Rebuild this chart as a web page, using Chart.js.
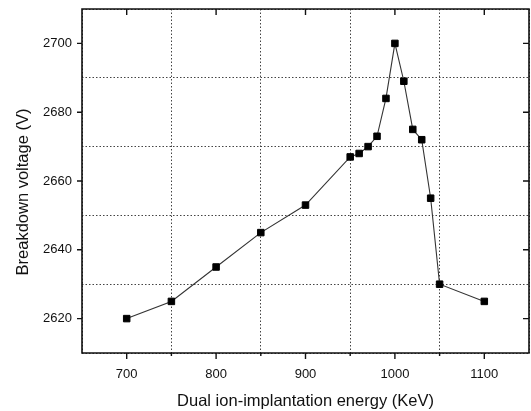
<!DOCTYPE html>
<html>
<head>
<meta charset="utf-8">
<script src="https://cdn.jsdelivr.net/npm/chart.js@4/dist/chart.umd.min.js"></script>
<style>
  html, body { margin: 0; padding: 0; background: #fff; overflow: hidden; }
  #wrap { width: 531px; height: 411px; }
</style>
</head>
<body>
<div id="wrap"><canvas id="grafica"></canvas></div>
<script>
// energia de implantacion (KeV) y voltaje de ruptura (V)
const energy = [700, 750, 800, 850, 900, 950, 960, 970, 980, 990, 1000, 1010, 1020, 1030, 1040, 1050, 1100];
const voltage = [2620, 2625, 2635, 2645, 2653, 2667, 2668, 2670, 2673, 2684, 2700, 2689, 2675, 2672, 2655, 2630, 2625];
const xTicks = [700, 800, 900, 1000, 1100];
const xMinor = [750, 850, 950, 1050];
const yTicks = [2620, 2640, 2660, 2680, 2700];
const yTitle = 'Breakdown voltage (V)';

const FONT = 'Arial, "Liberation Sans", Helvetica, sans-serif';

// marco, marcas de los ejes y titulo del eje Y
const marco = {
    id: 'marco',
    afterDatasetsDraw(chart) {
        const ctx = chart.ctx;
        const a = chart.chartArea;
        const x = chart.scales.x;
        const y = chart.scales.y;
        ctx.save();
        ctx.strokeStyle = '#111';
        ctx.lineWidth = 1.6;
        ctx.beginPath();
        ctx.rect(a.left, a.top, a.right - a.left, a.bottom - a.top);
        ctx.stroke();
        ctx.lineWidth = 1.4;
        ctx.beginPath();
        xTicks.forEach(v => {
            const px = x.getPixelForValue(v);
            ctx.moveTo(px, a.bottom); ctx.lineTo(px, a.bottom + 6); // abajo, hacia fuera
            ctx.moveTo(px, a.top); ctx.lineTo(px, a.top + 6);       // arriba, hacia dentro
        });
        xMinor.forEach(v => {
            const px = x.getPixelForValue(v);
            ctx.moveTo(px, a.bottom); ctx.lineTo(px, a.bottom + 3);
        });
        yTicks.forEach(v => {
            const py = y.getPixelForValue(v);
            ctx.moveTo(a.left, py); ctx.lineTo(a.left - 5, py);     // izquierda, hacia fuera
            ctx.moveTo(a.right, py); ctx.lineTo(a.right - 6, py);   // derecha, hacia dentro
        });
        ctx.stroke();

        // titulo eje Y (un poco por debajo del centro, como en el original)
        ctx.translate(23, 192);
        ctx.rotate(-Math.PI / 2);
        ctx.fillStyle = '#111';
        ctx.font = '16.5px ' + FONT;
        ctx.textAlign = 'center';
        ctx.textBaseline = 'middle';
        ctx.fillText(yTitle, 0, 0);
        ctx.restore();
    }
};

const ctx = document.getElementById('grafica').getContext('2d');
const chart = new Chart(ctx, {
    type: 'line',
    data: {
        datasets: [{
            data: energy.map((e, i) => ({ x: e, y: voltage[i] })),
            borderColor: '#333',
            borderWidth: 1.1,
            pointStyle: 'rect',
            pointRadius: 4.6,
            pointBackgroundColor: '#000',
            pointBorderColor: '#000',
            pointBorderWidth: 1,
            tension: 0
        }]
    },
    options: {
        responsive: true,
        maintainAspectRatio: false,
        animation: false,
        layout: {
            autoPadding: false,
            padding: { top: 9, right: 2, left: 0, bottom: 0 }
        },
        plugins: { legend: { display: false }, tooltip: { enabled: false } },
        scales: {
            x: {
                type: 'linear',
                min: 650,
                max: 1150,
                afterFit: s => { s.height = 58; s.paddingLeft = 0; s.paddingRight = 0; },
                border: { display: false, dash: [1.5, 2] },
                grid: {
                    drawTicks: false,
                    lineWidth: 1,
                    color: c => (c.tick && c.tick.value % 100 === 50) ? '#444' : 'rgba(0,0,0,0)'
                },
                ticks: {
                    stepSize: 50,
                    autoSkip: false,
                    maxRotation: 0,
                    padding: 14,
                    color: '#111',
                    font: { family: FONT, size: 13 },
                    callback: v => (v % 100 === 0 ? v : '')
                },
                title: {
                    display: true,
                    text: 'Dual ion-implantation energy (KeV)',
                    color: '#111',
                    font: { family: FONT, size: 16.5 },
                    padding: { top: 3, bottom: 0 }
                }
            },
            y: {
                type: 'linear',
                min: 2610,
                max: 2710,
                afterFit: s => { s.width = 82; s.paddingTop = 0; s.paddingBottom = 0; },
                border: { display: false, dash: [1.5, 2] },
                grid: {
                    drawTicks: false,
                    lineWidth: 1,
                    color: c => (c.tick && c.tick.value % 20 === 10) ? '#444' : 'rgba(0,0,0,0)'
                },
                ticks: {
                    stepSize: 10,
                    autoSkip: false,
                    padding: 10,
                    color: '#111',
                    font: { family: FONT, size: 13 },
                    callback: v => (v % 20 === 0 ? v : '')
                },
                title: { display: false }
            }
        }
    },
    plugins: [marco]
});
</script>
</body>
</html>
